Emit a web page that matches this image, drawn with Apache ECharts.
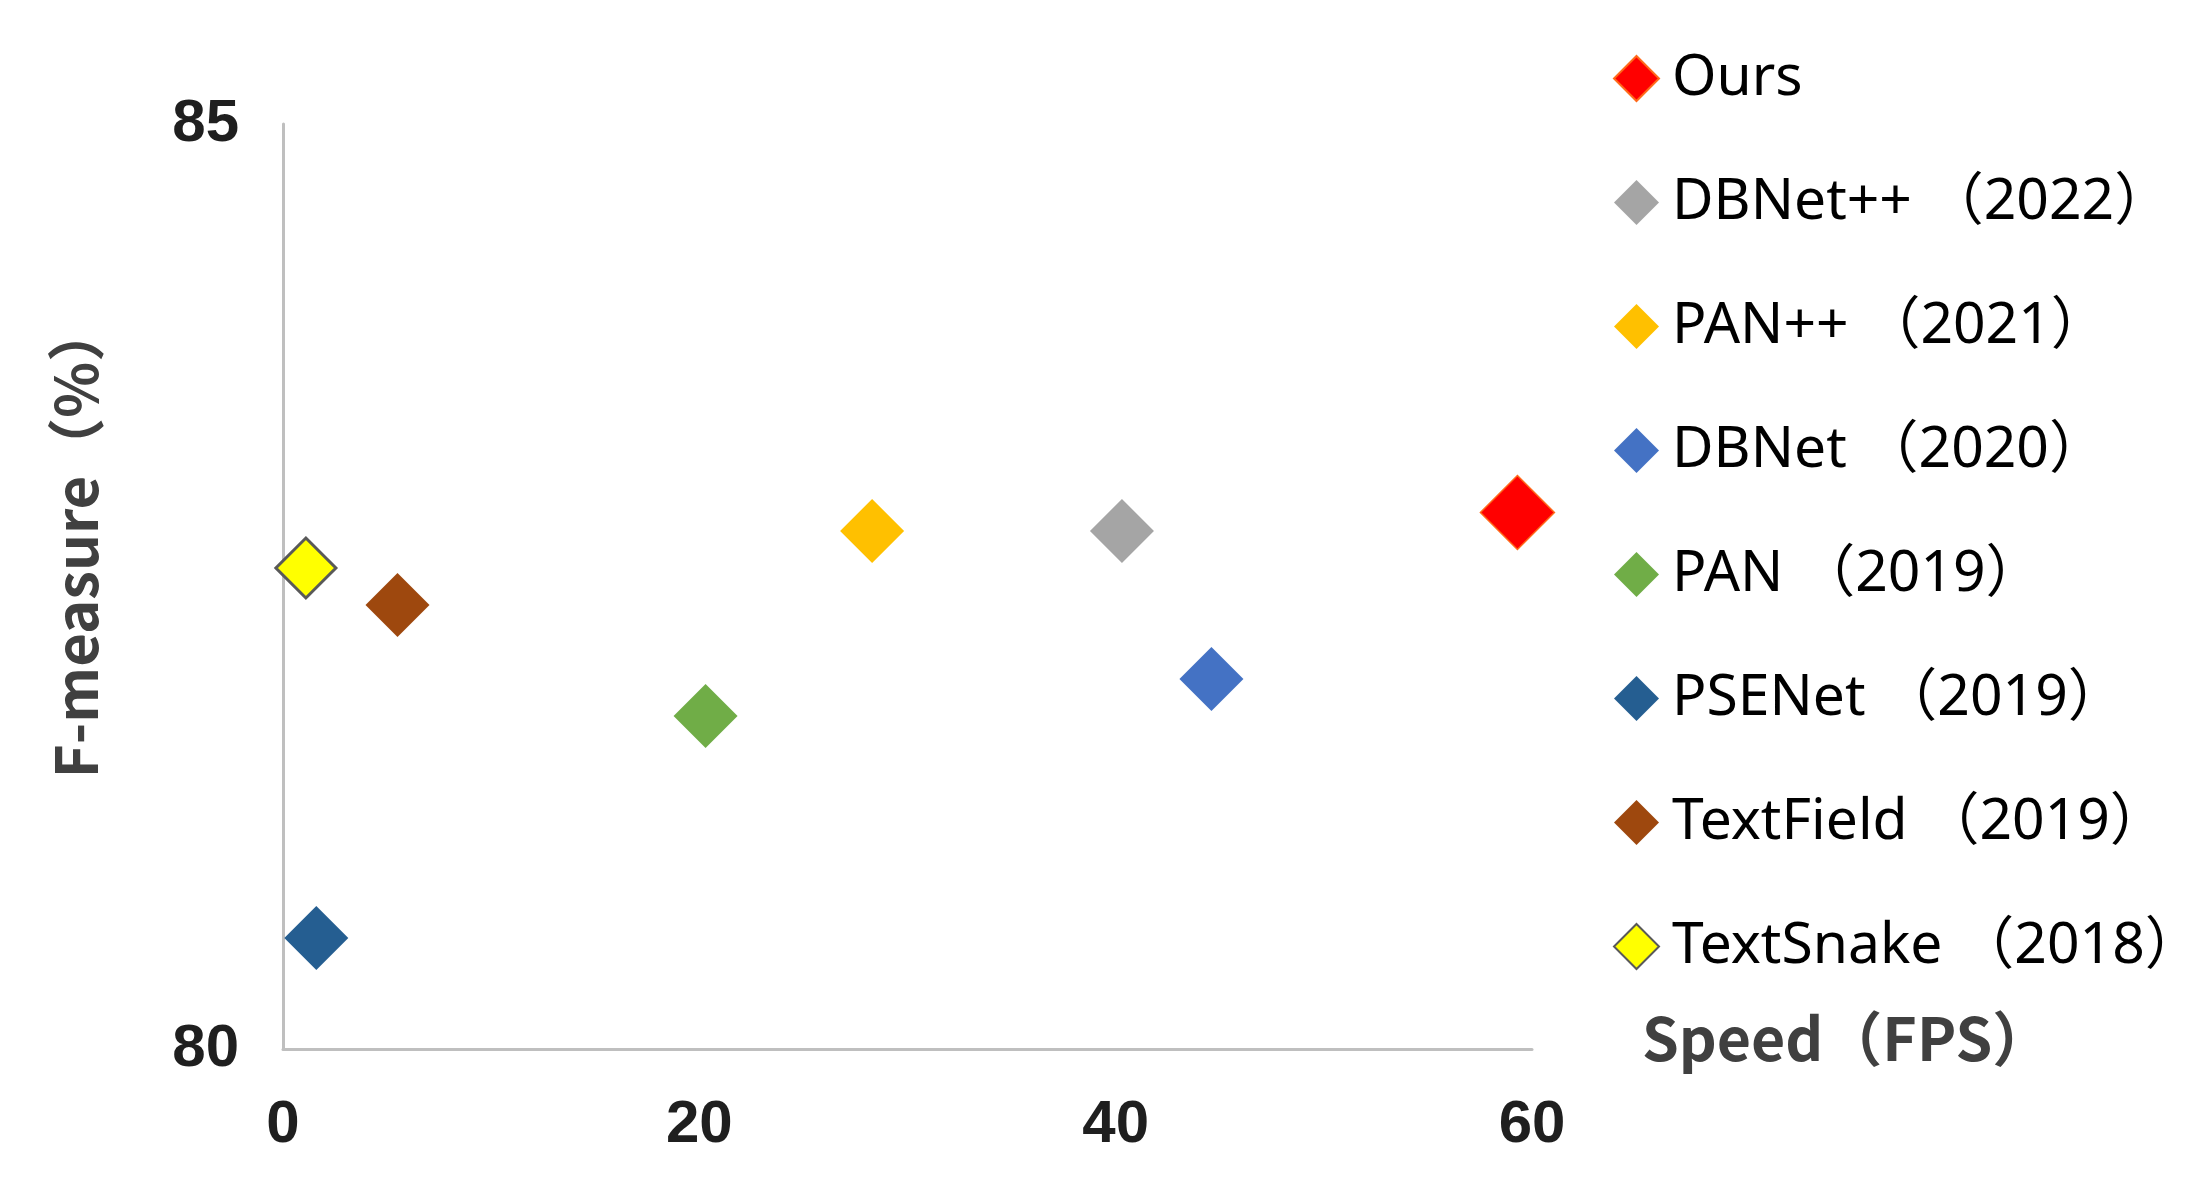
<!DOCTYPE html>
<html>
<head>
<meta charset="utf-8">
<script src="https://cdn.jsdelivr.net/npm/echarts@6/dist/echarts.min.js"></script>
<style>
html,body{margin:0;padding:0;background:#fff;}
#c{width:2195px;height:1189px;}
</style>
</head>
<body>
<div id="c"></div>
<script>
// ---- data ----
const methods = ['Ours', 'DBNet++ （2022）', 'PAN++ （2021）', 'DBNet （2020）', 'PAN （2019）', 'PSENet （2019）', 'TextField （2019）', 'TextSnake （2018）'];
const speedFPS = [59.3, 40.3, 28.3, 44.6, 20.3, 1.6, 5.5, 1.1];
const fMeasure = [82.9, 82.8, 82.8, 82.0, 81.8, 80.6, 82.4, 82.6];
const colors = ['#FF0000', '#A5A5A5', '#FFC000', '#4472C4', '#70AD47', '#255E91', '#9E480E', '#FFFF00'];
const xTicks = [0, 20, 40, 60];
const yTicks = [80, 85];
const xTitle = 'Speed（FPS）';
const yTitle = 'F-measure（%）';

const CJK = '"Noto Sans CJK SC", "Noto Sans", sans-serif';
const LEG = '"Noto Sans", "Noto Sans CJK SC", sans-serif';
const NUM = '"Liberation Sans", Arial, sans-serif';

const series = methods.map((m, i) => {
  const s = {
    name: m,
    type: 'scatter',
    symbol: 'diamond',
    symbolSize: i === 0 ? 74 : (i === 7 ? 60 : 64),
    itemStyle: { color: colors[i], opacity: 1 },
    data: [[speedFPS[i], fMeasure[i]]],
    z: 3
  };
  if (i === 7) { s.itemStyle.borderColor = '#595959'; s.itemStyle.borderWidth = 3; }
  if (i === 0) { s.itemStyle.borderColor = '#FF6A1A'; s.itemStyle.borderWidth = 1.5; }
  return s;
});

const chart = echarts.init(document.getElementById('c'), null, { renderer: 'canvas' });
chart.setOption({
  animation: false,
  backgroundColor: '#ffffff',
  grid: { left: 283, right: 663, top: 124, bottom: 140, containLabel: false },
  xAxis: {
    type: 'value', min: xTicks[0], max: xTicks[xTicks.length - 1], interval: 20,
    axisLine: { show: true, lineStyle: { color: '#BFBFBF', width: 3 } },
    axisTick: { show: false },
    splitLine: { show: false },
    axisLabel: { margin: 46, fontSize: 60, fontFamily: NUM, color: '#1f1f1f', fontWeight: 'bold' }
  },
  yAxis: {
    type: 'value', min: yTicks[0], max: yTicks[yTicks.length - 1], interval: 5,
    axisLine: { show: true, lineStyle: { color: '#BFBFBF', width: 3 } },
    axisTick: { show: false },
    splitLine: { show: false },
    axisLabel: { margin: 44, fontSize: 60, fontFamily: NUM, color: '#1f1f1f', fontWeight: 'bold' }
  },
  legend: {
    orient: 'vertical',
    left: 1608,
    top: 45,
    itemWidth: 45,
    itemHeight: 45,
    itemGap: 67,
    icon: 'diamond',
    data: methods,
    textStyle: { fontFamily: LEG, fontSize: 57, color: '#000000', padding: [0, 0, 0, 8] }
  },
  graphic: [{
    type: 'text',
    x: 76, y: 541,
    rotation: Math.PI / 2,
    style: {
      text: yTitle,
      font: 'bold 58px "Noto Sans CJK SC", sans-serif',
      fill: '#404040',
      align: 'center',
      verticalAlign: 'middle'
    }
  }, {
    type: 'text',
    x: 1642, y: 1039,
    style: {
      text: xTitle,
      font: 'bold 59px "Noto Sans CJK SC", sans-serif',
      fill: '#404040',
      align: 'left',
      verticalAlign: 'middle'
    }
  }],
  series: series
});
</script>
</body>
</html>
